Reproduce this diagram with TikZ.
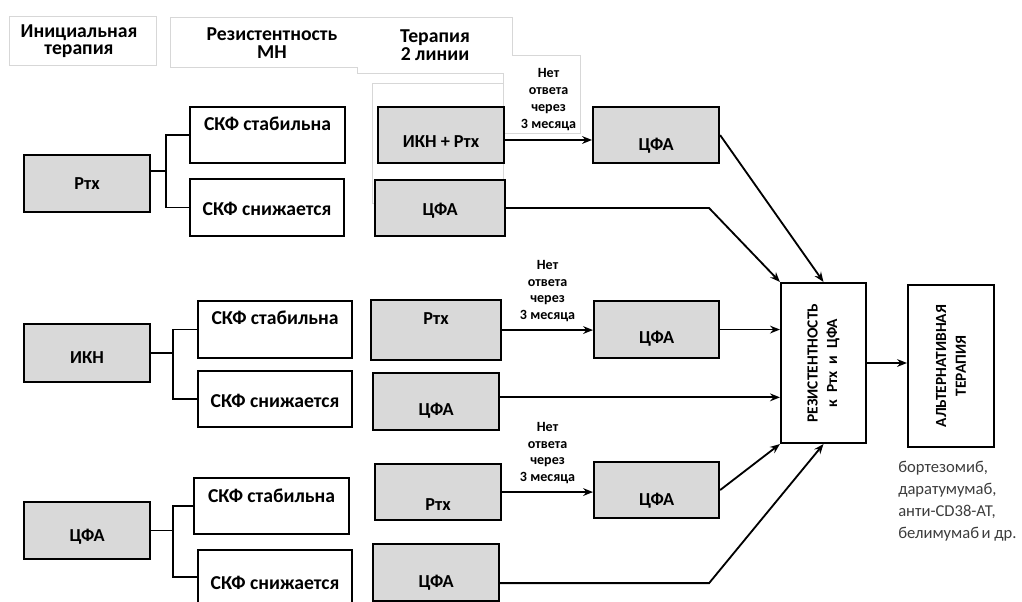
\documentclass[tikz,border=0pt]{standalone}
\usepackage{fontspec}
\setmainfont{Carlito}
\usepackage{tikz}
\usetikzlibrary{arrows.meta}
\definecolor{boxgray}{RGB}{217,217,217}
\definecolor{ghostgray}{RGB}{215,215,215}
\definecolor{textgray}{RGB}{60,60,60}
\newdimen\pxu
\pxu=0.025cm

\begin{document}
\begin{tikzpicture}[x=0.025cm, y=-0.025cm,
  >={Stealth[length=7pt, width=5.5pt]},
  cell/.style n args={3}{anchor=north west, draw=black, line width=1.5pt, inner sep=0pt,
    minimum width=#1\pxu, text height=#2\pxu, text depth=#3\pxu,
    font=\bfseries\fontsize{13}{15}\selectfont},
  gcell/.style={fill=boxgray},
  wcell/.style={fill=white, font=\bfseries\fontsize{14}{16}\selectfont},
  tall/.style={draw=black, line width=1.5pt, fill=white, rotate=90, inner sep=0pt,
    align=center, font=\bfseries\fontsize{11}{14}\selectfont},
  link/.style={line width=1.3pt},
  note/.style={font=\bfseries\fontsize{10}{12}\selectfont, align=center, inner sep=0pt},
  head/.style={font=\bfseries\fontsize{14}{12.5}\selectfont, align=center},
  ghost/.style={draw=ghostgray, line width=0.6pt}]

\useasboundingbox (0,0) rectangle (1022,601);

% --- Header frames (faint) ---
\draw[ghost] (9,16) rectangle (156,65);
\draw[ghost] (170,17) -- (512,17) -- (512,55) -- (580,55) -- (580,133) -- (503,133)
  -- (503,73) -- (357,73) -- (357,67) -- (170,67) -- cycle;
\draw[ghost] (372,83) rectangle (503,203);
\node[head] (hini) at (79,41) {Инициальная\\терапия};
\node[head] (hres) at (272,43) {Резистентность\\МН};
\node[head] (hter) at (435,45) {Терапия\\2 линии};

% --- Row 1: Ртх ---
\node[cell={126}{34}{23}, gcell] (ini1) at (23,154) {Ртх};
\node[cell={155}{23}{33}, wcell] (st1) at (189,106) {СКФ стабильна};
\node[cell={154}{36}{21}, wcell] (sn1) at (189,178) {СКФ снижается};
\node[cell={126}{40}{16}, gcell] (ikr) at (377,106) {ИКН + Ртх};
\node[cell={130}{35}{21}, gcell] (cfa1a) at (374,179) {ЦФА};
\node[cell={126}{43}{13}, gcell] (cfa1b) at (592,106) {ЦФА};

% --- Row 2: ИКН ---
\node[cell={126}{39}{19}, gcell] (ini2) at (23,323) {ИКН};
\node[cell={154}{23}{34}, wcell] (st2) at (197,300) {СКФ стабильна};
\node[cell={154}{36}{20}, wcell] (sn2) at (197,370) {СКФ снижается};
\node[cell={130}{24}{36}, gcell] (rtx2) at (370,299) {Ртх};
\node[cell={126}{42}{15}, gcell] (cfa2a) at (372,372) {ЦФА};
\node[cell={125}{42}{15}, gcell] (cfa2b) at (593,300) {ЦФА};

% --- Row 3: ЦФА ---
\node[cell={126}{39}{18}, gcell] (ini3) at (23,501) {ЦФА};
\node[cell={155}{24}{32}, wcell] (st3) at (193,477) {СКФ стабильна};
\node[cell={154}{39}{15}, wcell] (sn3) at (197,549) {СКФ снижается};
\node[cell={126}{46}{10}, gcell] (rtx3) at (374,463) {Ртх};
\node[cell={126}{43}{14}, gcell] (cfa3a) at (372,543) {ЦФА};
\node[cell={125}{43}{13}, gcell] (cfa3b) at (593,461) {ЦФА};

% --- Outcome ---
\node[tall, minimum width=160\pxu, minimum height=85\pxu] (res) at (823.5,363)
  {РЕЗИСТЕНТНОСТЬ\\к~~Ртх~~и~~ЦФА};
\node[tall, minimum width=162\pxu, minimum height=86\pxu] (alt) at (951,366)
  {АЛЬТЕРНАТИВНАЯ\\ТЕРАПИЯ};
\node[anchor=north west, align=left, inner sep=0pt, text=textgray,
  font=\fontsize{11.8}{15.6}\selectfont] (drugs) at (898,461)
  {бортезомиб,\\даратумумаб,\\анти-CD38-АТ,\\белимумаб\hspace{0.15em}и~др.};

% --- Connectors ---
\draw[link] ([yshift=9pt]ini1.east) -- ++(15,0) coordinate (j1) |- (st1.west);
\draw[link] (j1) |- (sn1.west);
\draw[link] (ini2.east) -- ++(22,0) coordinate (j2) |- (st2.west);
\draw[link] (j2) |- (sn2.west);
\draw[link] (ini3.east) -- ++(22,0) coordinate (j3) |- (st3.west);
\draw[link] (j3) |- (sn3.west);

\draw[link, ->] ([yshift=-3.5pt]ikr.east) -- ([yshift=-3.5pt]ikr.east -| cfa1b.west)
  node[note, midway, above=6pt] (nr1) {Нет\\ответа\\через\\3 месяца};
\draw[link, ->] (rtx2.east) -- (rtx2.east -| cfa2b.west)
  node[note, midway, above=5pt] (nr2) {Нет\\ответа\\через\\3 месяца};
\draw[link, ->] (rtx3.east) -- (rtx3.east -| cfa3b.west)
  node[note, midway, above=5pt] (nr3) {Нет\\ответа\\через\\3 месяца};

\draw[link, ->] (cfa1b.east) -- (res.east);
\draw[link, ->] (cfa1a.east) -- ++(203,0) -- (res.north east);
\draw[link, ->] (cfa2b.east) -- (cfa2b.east -| res.north);
\draw[link, ->] ([yshift=3pt]cfa2a.east) -- ([yshift=3pt]cfa2a.east -| res.north);
\draw[link, ->] (cfa3b.east) -- (res.north west);
\draw[link, ->] ([yshift=-7.5pt]cfa3a.east) -- ++(209,0) -- (res.west);
\draw[link, ->] (res.south) -- (res.south -| alt.north);

\end{tikzpicture}
\end{document}
